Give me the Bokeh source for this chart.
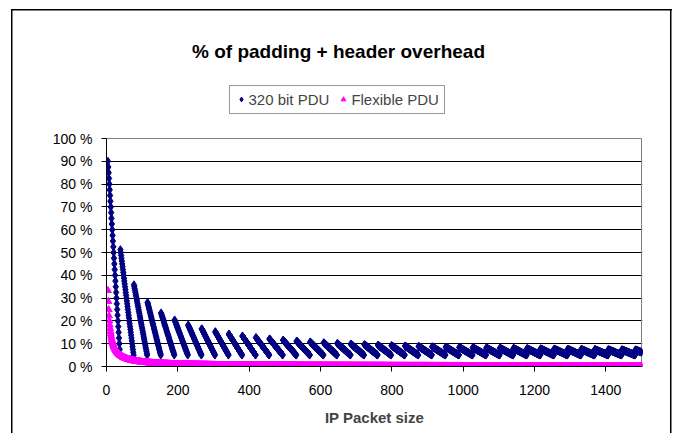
import numpy as np
from bokeh.plotting import figure
from bokeh.models import (FixedTicker, PrintfTickFormatter, Legend, LegendItem,
                          Label, Range1d)
from bokeh.embed import file_html
from bokeh.resources import INLINE

# ---- data ----
# x: IP packet size in bytes, one point per byte from 4 to 1500
packet_sizes = np.arange(4, 1501)
# fixed PDU: 320 bit = 40 bytes, of which 2 header bytes (trough 5 %, first peak 90 % at 4 bytes)
PDU_BYTES = 40
HEADER_BYTES = 2
series_names = ["320 bit PDU", "Flexible PDU"]
x_ticks = [0, 200, 400, 600, 800, 1000, 1200, 1400]
y_ticks = [0, 10, 20, 30, 40, 50, 60, 70, 80, 90, 100]
x_max = 1500
y_max = 100

n_pdus = np.ceil(packet_sizes / (PDU_BYTES - HEADER_BYTES))
fixed_overhead = 100.0 * (n_pdus * PDU_BYTES - packet_sizes) / (n_pdus * PDU_BYTES)
flexible_overhead = 100.0 * HEADER_BYTES / (packet_sizes + HEADER_BYTES)

FONT = "Liberation Sans"

# layout (pixels): plot area 106..642 x 138..366, frame extended up to y=9 so that
# the title and legend (drawn in the frame) are not clipped
FRAME_TOP, PLOT_TOP, PLOT_BOTTOM = 9, 138, 366
y_top = y_max * (PLOT_BOTTOM - FRAME_TOP) / (PLOT_BOTTOM - PLOT_TOP)
x_right = x_max * 536 / 535

frame_css = ("linear-gradient(#000,#000) 11px 9px / 661px 1.5px no-repeat, "
             "linear-gradient(#000,#000) 11px 9px / 1.5px 424px no-repeat, "
             "linear-gradient(#000,#000) 670px 9px / 1.5px 424px no-repeat, #ffffff")

p = figure(width=675, height=433, output_backend="svg", toolbar_location=None,
           x_range=Range1d(0, x_right), y_range=Range1d(0, y_top),
           min_border_left=106, min_border_right=33, min_border_top=FRAME_TOP,
           min_border_bottom=433 - PLOT_BOTTOM, styles={"background": frame_css})
p.outline_line_color = None
p.background_fill_alpha = 0
p.border_fill_alpha = 0

# grid
p.xgrid.visible = False
p.ygrid.ticker = FixedTicker(ticks=y_ticks[1:-1])
p.ygrid.grid_line_color = "black"
p.ygrid.grid_line_width = 1

# gray plot-area border (top and right)
p.segment(x0=[0, x_max], y0=[y_max, 0], x1=[x_max, x_max], y1=[y_max, y_max],
          line_color="#808080", line_width=1)

r1 = p.scatter(packet_sizes, fixed_overhead, marker="diamond", size=8,
               fill_color="#000080", line_color="#000080", line_width=1)
r2 = p.scatter(packet_sizes, flexible_overhead, marker="triangle", size=7,
               fill_color="#FF00FF", line_color="#FF00FF", line_width=1)

# axes
for ax in (p.xaxis[0], p.yaxis[0]):
    ax.axis_line_color = "black"
    ax.major_tick_line_color = "black"
    ax.major_tick_in = 0
    ax.major_tick_out = 5
    ax.minor_tick_line_color = None
    ax.major_label_text_font = FONT
    ax.major_label_text_font_size = "14px"
    ax.major_label_text_color = "black"

p.xaxis.ticker = FixedTicker(ticks=x_ticks)
p.xaxis.bounds = (0, x_max)
p.xaxis.major_label_standoff = 13
p.xaxis.axis_label = "IP Packet size"
p.xaxis.axis_label_text_font = FONT
p.xaxis.axis_label_text_font_style = "bold"
p.xaxis.axis_label_text_font_size = "15px"
p.xaxis.axis_label_standoff = 11

p.yaxis.ticker = FixedTicker(ticks=y_ticks)
p.yaxis.bounds = (0, y_max)
p.yaxis.formatter = PrintfTickFormatter(format="%d %%")
p.yaxis.major_label_standoff = 9

# title
p.add_layout(Label(x=232, y=PLOT_BOTTOM - 50.5, x_units="screen", y_units="screen",
                   text="% of padding + header overhead", text_font=FONT,
                   text_font_style="bold", text_font_size="19px",
                   text_align="center", text_baseline="middle", text_color="black"))

# legend (location gives its bottom-left corner, relative to the frame)
legend = Legend(items=[LegendItem(label=series_names[0], renderers=[r1]),
                       LegendItem(label=series_names[1], renderers=[r2])],
                location=(122.5, PLOT_BOTTOM - 113.5), orientation="horizontal",
                label_text_font=FONT, label_text_font_size="15px",
                padding=5, spacing=8, margin=0,
                glyph_width=12, glyph_height=16, label_height=16, label_standoff=2,
                border_line_color="#333333", border_line_width=1,
                background_fill_color="white", background_fill_alpha=1)
p.add_layout(legend, "center")

open("out.html", "w").write(file_html(p, INLINE))
